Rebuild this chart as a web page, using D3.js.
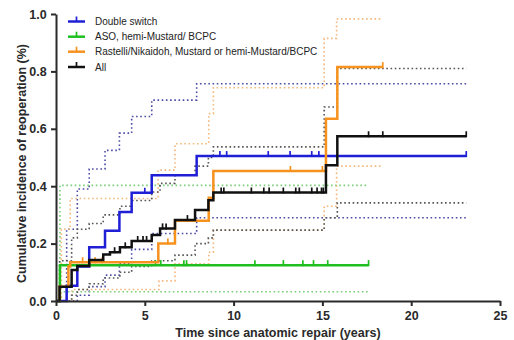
<!DOCTYPE html>
<html>
<head>
<meta charset="utf-8">
<script src="https://cdn.jsdelivr.net/npm/d3@7"></script>
<style>
  body { margin: 0; background: #fff; }
  svg { font-family: "Liberation Sans", Arial, sans-serif; }
  .axis path, .axis line { stroke: #2a2a2a; stroke-width: 2; }
  .axis text { font-size: 12.5px; font-weight: bold; fill: #2a2a2a; }
  .axis-title { font-size: 12.5px; font-weight: bold; fill: #2a2a2a; }
  .legend text { font-size: 10px; fill: #222; }
</style>
</head>
<body>
<div id="chart"></div>
<script>
const W = 514, H = 340;
const MARGIN = {left: 56, right: 14, top: 14, bottom: 39};

const xTicks = [0, 5, 10, 15, 20, 25];
const yTicks = [0, 0.2, 0.4, 0.6, 0.8, 1.0];

const seriesNames = ['Double switch', 'ASO, hemi-Mustard/ BCPC', 'Rastelli/Nikaidoh, Mustard or hemi-Mustard/BCPC', 'All'];

// Double switch
const dsSteps = [[0,0],[0.6,0.053],[1.2,0.12],[1.87,0.187],[2.76,0.245],[3.57,0.31],[4.26,0.377],[5.39,0.438],[7.92,0.505]];
const dsUpper = [[0,0],[0.6,0.25],[1.2,0.39],[1.87,0.46],[2.76,0.525],[3.57,0.585],[4.26,0.643],[5.39,0.70],[7.92,0.757]];
const dsLower = [[0,0],[1.2,0.02],[1.87,0.05],[2.76,0.09],[3.57,0.13],[4.26,0.18],[5.39,0.235],[7.92,0.29]];
const dsCensor = [5.0, 9.23, 9.61, 11.95, 13.18, 14.4, 14.8];
const dsEnd = 23.1;

// ASO, hemi-Mustard/BCPC
const asoSteps = [[0,0],[0.22,0.125]];
const asoUpper = [[0,0],[0.22,0.403]];
const asoLower = [[0,0],[0.22,0.032]];
const asoCensor = [5.6, 5.9, 7.2, 7.35, 11.2, 12.8, 13.9, 14.5, 15.3];
const asoEnd = 17.6;

// Rastelli/Nikaidoh, Mustard or hemi-Mustard/BCPC
const rasSteps = [[0,0],[0.2,0.05],[0.7,0.12],[0.8,0.135],[5.76,0.2],[6.7,0.28],[8.6,0.36],[8.86,0.453],[15.2,0.635],[15.84,0.815]];
const rasUpper = [[0,0],[0.3,0.25],[0.8,0.357],[5.75,0.456],[6.7,0.548],[8.6,0.653],[8.86,0.743],[15.1,0.915],[15.8,0.983]];
const rasLower = [[0,0],[0.9,0.04],[5.8,0.07],[6.7,0.13],[8.6,0.17],[8.86,0.247],[15.1,0.33],[15.8,0.47]];
const rasCensor = [1.5, 2.2, 2.6, 6.3, 13.2, 15.0];
const rasEnd = 18.4;

// All
const allSteps = [[0,0],[0.2,0.05],[0.88,0.108],[1.2,0.122],[1.87,0.143],[2.66,0.162],[3.04,0.17],[3.6,0.187],[4.26,0.209],[5.39,0.23],[5.86,0.253],[6.7,0.282],[7.83,0.317],[8.58,0.351],[8.86,0.378],[15.2,0.473],[15.84,0.574]];
const allUpper = [[0,0],[0.2,0.14],[0.88,0.22],[1.2,0.25],[1.87,0.27],[2.66,0.30],[3.6,0.33],[4.26,0.35],[5.39,0.38],[5.86,0.41],[6.7,0.44],[7.83,0.47],[8.58,0.50],[8.86,0.537],[15.1,0.676],[15.84,0.81]];
const allLower = [[0,0],[0.88,0.02],[1.2,0.04],[1.87,0.06],[2.66,0.08],[3.6,0.10],[4.26,0.12],[5.39,0.14],[6.7,0.16],[7.83,0.20],[8.58,0.22],[8.86,0.247],[15.1,0.29],[15.84,0.342]];
const allCensor = [3.3, 3.9, 4.6, 4.9, 5.1, 6.0, 6.2, 7.4, 9.3, 9.45, 11.0, 11.7, 12.0, 12.8, 13.5, 13.7, 14.4, 14.7, 14.95, 15.05, 17.6, 18.4];
const allEnd = 23.1;

const series = [
  {name: seriesNames[0], color: '#1f1fd6', ci: '#4c4ca6', steps: dsSteps, upper: dsUpper, lower: dsLower, censor: dsCensor, end: dsEnd, ciEnd: dsEnd},
  {name: seriesNames[1], color: '#1fbf1f', ci: '#79cf79', steps: asoSteps, upper: asoUpper, lower: asoLower, censor: asoCensor, end: asoEnd, ciEnd: asoEnd},
  {name: seriesNames[2], color: '#f7921e', ci: '#f4b77c', steps: rasSteps, upper: rasUpper, lower: rasLower, censor: rasCensor, end: rasEnd, ciEnd: 18.4},
  {name: seriesNames[3], color: '#111', ci: '#555', steps: allSteps, upper: allUpper, lower: allLower, censor: allCensor, end: allEnd, ciEnd: allEnd}
];

const svg = d3.select('#chart').append('svg')
  .attr('width', W)
  .attr('height', H);

const x = d3.scaleLinear().domain([0, 25]).range([MARGIN.left, W - MARGIN.right]);
const y = d3.scaleLinear().domain([0, 1]).range([H - MARGIN.bottom, MARGIN.top]);

const withEnd = (pts, end) => pts.concat([[end, pts[pts.length - 1][1]]]);
const step = d3.line().x(d => x(d[0])).y(d => y(d[1])).curve(d3.curveStepAfter);

// value of a step function at time t
const valueAt = (pts, t) => {
  let v = 0;
  pts.forEach(p => { if (p[0] <= t) v = p[1]; });
  return v;
};

// confidence bands (dotted)
series.forEach(s => {
  [s.upper, s.lower].forEach(band => {
    svg.append('path')
      .datum(withEnd(band, s.ciEnd))
      .attr('d', step)
      .attr('fill', 'none')
      .attr('stroke', s.ci)
      .attr('stroke-width', 1.6)
      .attr('stroke-dasharray', '1.6,2.6');
  });
});

// main curves
series.forEach(s => {
  const g = svg.append('g');
  g.append('path')
    .datum(withEnd(s.steps, s.end))
    .attr('d', step)
    .attr('fill', 'none')
    .attr('stroke', s.color)
    .attr('stroke-width', 2.5);

  g.selectAll('line.censor')
    .data(s.censor.concat([s.end]))
    .enter().append('line')
      .attr('x1', d => x(d))
      .attr('x2', d => x(d))
      .attr('y1', d => y(valueAt(s.steps, d)) + 1)
      .attr('y2', d => y(valueAt(s.steps, d)) - 5)
      .attr('stroke', s.color)
      .attr('stroke-width', 1.7);
});

// axes
const xAxis = d3.axisBottom(x).tickValues(xTicks).tickSize(5).tickSizeOuter(0).tickFormat(d3.format('d'));
const yAxis = d3.axisLeft(y).tickValues(yTicks).tickSize(5).tickSizeOuter(0).tickFormat(d3.format('.1f'));

svg.append('g')
  .attr('class', 'axis')
  .attr('transform', `translate(0, ${y(0)})`)
  .call(xAxis)
  .call(g => g.selectAll('text').attr('dy', '0.85em'));

svg.append('g')
  .attr('class', 'axis')
  .attr('transform', `translate(${x(0)}, 0)`)
  .call(yAxis)
  .call(g => g.selectAll('text').attr('dx', '-0.1em'));

svg.append('text')
  .attr('class', 'axis-title')
  .attr('x', (x(0) + x(25)) / 2)
  .attr('y', H - 3)
  .attr('text-anchor', 'middle')
  .text('Time since anatomic repair (years)');

svg.append('text')
  .attr('class', 'axis-title')
  .attr('transform', `translate(26, ${(y(0) + y(1)) / 2 + 6}) rotate(-90)`)
  .attr('text-anchor', 'middle')
  .text('Cumulative incidence of reoperation (%)');

// legend
const legend = svg.append('g').attr('class', 'legend');
const legendY = [21.5, 36.7, 51.7, 67];
series.forEach((s, i) => {
  const ly = legendY[i];
  legend.append('line')
    .attr('x1', 68).attr('x2', 85)
    .attr('y1', ly).attr('y2', ly)
    .attr('stroke', s.color).attr('stroke-width', 2.5);
  legend.append('line')
    .attr('x1', 76.5).attr('x2', 76.5)
    .attr('y1', ly).attr('y2', ly - 5)
    .attr('stroke', s.color).attr('stroke-width', 1.7);
  legend.append('text')
    .attr('x', 95)
    .attr('y', ly + 3.5)
    .text(s.name);
});
</script>
</body>
</html>
